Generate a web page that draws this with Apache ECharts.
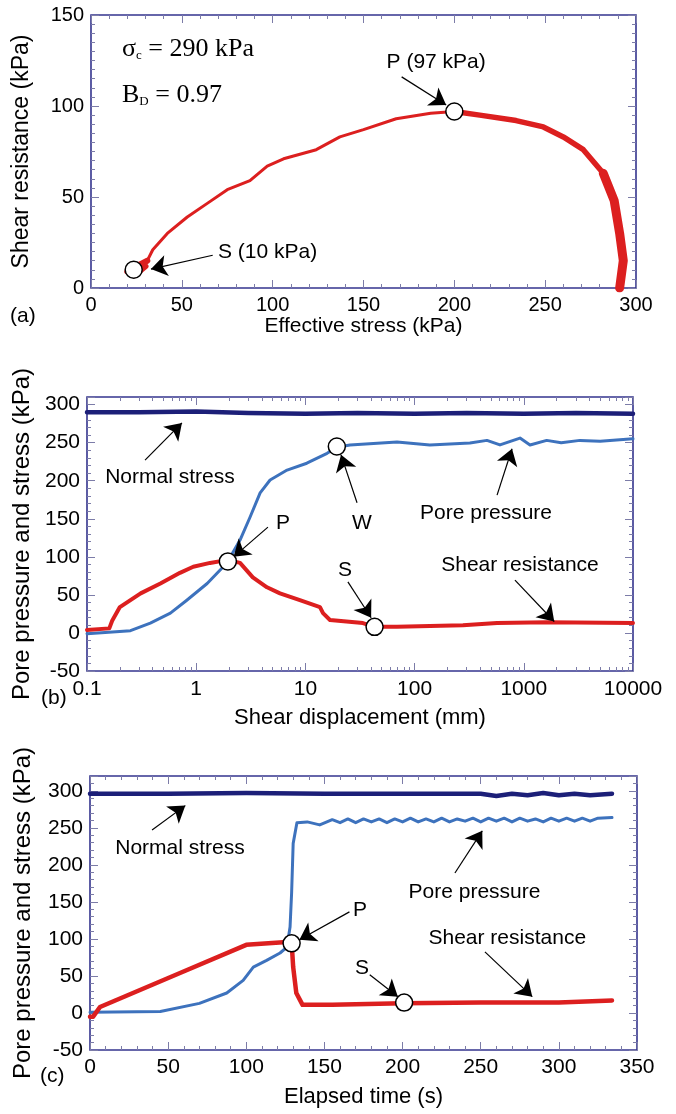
<!DOCTYPE html>
<html><head><meta charset="utf-8">
<script src="https://cdn.jsdelivr.net/npm/echarts@6/dist/echarts.min.js"></script>
<style>html,body{margin:0;padding:0;background:#fff}#c{width:676px;height:1114px}</style>
</head><body><div id="c"></div>
<script>
// ---------- Panel (a): stress path ----------
const aEffStress = [291, 293, 291, 288, 282, 271, 260, 249, 234, 214, 200, 187, 168, 150, 137, 124, 106, 97, 87.5, 75, 64, 53, 42, 34, 31, 27, 22, 20, 24, 30, 23];
const aShear     = [0, 15, 30, 48, 63, 76, 83, 88.5, 92, 95, 97, 96, 93, 87, 83, 76, 71, 67, 59, 54, 46.5, 39, 30, 21, 15, 13, 12, 9, 7, 12, 10];
const aPoints = [[200, 97, 'P'], [23.5, 10, 'S']];

// ---------- Panel (b): vs shear displacement (log) ----------
const bDispN = [0.1, 0.3, 1, 3, 10, 30, 100, 300, 1000, 3000, 10000];
const bNormal = [290, 290, 291, 289, 288, 289, 288, 289, 288, 289, 288];
const bDispP = [0.1, 0.25, 0.38, 0.58, 0.82, 1.26, 1.91, 2.52, 3.11, 3.85, 4.75, 6.8, 10.3, 15.8, 19.4, 25.6, 69, 138, 321, 460, 605, 923, 1140, 1620, 2200, 3270, 5000, 10000];
const bPore  = [-1, 3, 13, 26, 43, 65, 92, 122, 152, 184, 201, 214, 223, 236, 244, 247, 251, 247, 249.5, 253, 247, 256, 247, 253, 250, 253, 252, 255];
const bDispS = [0.1, 0.16, 0.17, 0.2, 0.31, 0.47, 0.71, 0.94, 1.34, 1.95, 2.52, 3.3, 4.45, 5.85, 8.9, 13.6, 14.5, 16.8, 33.6, 43, 69, 277, 569, 1620, 10000];
const bShear = [4, 6, 16, 34, 52, 65, 79, 87, 92, 96, 92, 73, 60, 52, 43, 34, 26, 17, 13, 8, 8, 10, 13, 14, 13];
const bPoints = [[1.95, 94, 'P'], [19.4, 245, 'W'], [43, 8, 'S']];

// ---------- Panel (c): vs elapsed time ----------
const cTimeN = [0, 50, 100, 150, 200, 250, 260, 270, 280, 290, 300, 310, 320, 334];
const cNormal = [296, 296, 297, 296, 296, 296, 293, 296, 294, 297, 294, 296, 294, 296];
const cTimeP = [0, 45, 70, 87.5, 98, 104.5, 113, 121.6, 126, 128, 129, 130, 132.4, 139, 147, 155, 160, 165, 170, 175, 180, 185, 190, 195, 200, 205, 210, 215, 220, 225, 230, 235, 240, 245, 250, 255, 260, 265, 270, 275, 280, 285, 290, 295, 300, 305, 310, 315, 320, 325, 334];
const cPore  = [1, 2, 13, 27, 44, 62, 71, 81, 89, 116, 162, 229, 257, 258, 254, 261, 257, 262, 257, 262, 258, 262, 257, 262, 258, 263, 258, 262, 258, 263, 258, 262, 259, 263, 258, 263, 259, 263, 258, 263, 259, 262, 258, 263, 259, 263, 259, 263, 259, 263, 264];
const cTimeS = [0, 2, 6.4, 57.6, 100, 126, 129, 130, 132, 136, 155, 200, 250, 300, 334];
const cShear = [-5, -5, 8, 54, 92, 96, 96, 62, 27, 11, 11, 13, 14, 14, 17];
const cPoints = [[129, 94, 'P'], [201, 14, 'S']];

// ---------- Tick values ----------
const logMajor = [0.1, 1, 10, 100, 1000, 10000];
const logMinor = [];
for (let d = 0.1; d < 10000; d *= 10) for (let k = 2; k <= 9; k++) logMinor.push(+(d * k).toPrecision(3));

// ---------- Annotations (text, arrows) in data coordinates ----------
const aTexts = [[69.9, 19.8, 'S (10 kPa)', 'left'], [190, 124.2, 'P (97 kPa)', 'center']];
const aArrows = [[[67, 18], [33, 10.4]], [[171, 116], [195.5, 100.5]]];
const bTexts = [[0.575, 205, 'Normal stress'], [6.24, 144, 'P'], [33, 144, 'W'], [451, 157.6, 'Pore pressure'], [23, 82.7, 'S'], [923, 89.2, 'Shear resistance']];
const bArrows = [[[0.34, 227], [0.74, 276]], [[4.54, 139], [2.2, 100]], [[29.7, 171], [21.2, 234]], [[569, 181], [780, 242]], [[24.5, 67], [40, 20]], [[830, 69.5], [1900, 15]]];
const cTexts = [[57.6, 222.8, 'Normal stress'], [172.7, 139, 'P'], [246, 163.5, 'Pore pressure'], [267, 101.4, 'Shear resistance'], [174, 61, 'S']];
const cArrows = [[[39.7, 247], [61, 280]], [[166, 136.5], [134, 99]], [[233.5, 189], [251, 246]], [[252.7, 82.5], [283, 22]], [[179, 51.5], [197, 22]]];

const RED = '#dc1f1f', BLUE = '#3d72bd', NAVY = '#1c1f78', FRAME = '#34348e', TICK = '#7c7ca8';
const FONT = 'Liberation Sans, Arial, sans-serif';
const INK = '#000';

const zip = (xs, ys) => xs.map((x, i) => [x, ys[i]]);

const grids = [
  { left: 91, top: 15, width: 545, height: 273 },
  { left: 87, top: 397, width: 546, height: 274 },
  { left: 90, top: 776, width: 547, height: 274 }
].map(g => Object.assign(g, { show: true, borderColor: FRAME, borderWidth: 1.6, backgroundColor: 'transparent', containLabel: false }));

const xAxes = [], yAxes = [];
function addAxis(list, o) { list.push(o); return list.length - 1; }

function linearAxes(gi, dim, min, max, interval, minorSplit, fontSize, name, nameGap) {
  const list = dim === 'x' ? xAxes : yAxes;
  const posMain = dim === 'x' ? 'bottom' : 'left';
  const posOpp = dim === 'x' ? 'top' : 'right';
  const base = {
    type: 'value', gridIndex: gi, min, max, interval,
    axisLine: { show: false, onZero: false },
    splitLine: { show: false },
    axisTick: { show: true, inside: true, length: 8, lineStyle: { color: TICK, width: 1 } },
    minorTick: { show: true, splitNumber: minorSplit, length: 4, lineStyle: { color: TICK, width: 1 } }
  };
  const main = addAxis(list, Object.assign({}, base, {
    position: posMain, name, nameLocation: 'middle', nameGap,
    nameTextStyle: { fontFamily: FONT, fontSize: fontSize + (dim === 'y' ? 3 : 1), color: INK },
    axisLabel: { show: true, fontFamily: FONT, fontSize, color: INK, margin: 7 }
  }));
  addAxis(list, Object.assign({}, base, { position: posOpp, axisLabel: { show: false } }));
  return main;
}

function logAxes(gi, fontSize, name, nameGap) {
  const base = {
    type: 'log', logBase: 10, gridIndex: gi, min: 0.1, max: 10000,
    axisLine: { show: false, onZero: false }, splitLine: { show: false }, minorTick: { show: false }
  };
  const main = addAxis(xAxes, Object.assign({}, base, {
    position: 'bottom', name, nameLocation: 'middle', nameGap,
    nameTextStyle: { fontFamily: FONT, fontSize: fontSize + 1, color: INK },
    axisTick: { show: true, inside: true, length: 8, customValues: logMajor, lineStyle: { color: TICK } },
    axisLabel: { show: true, fontFamily: FONT, fontSize, color: INK, margin: 8, customValues: logMajor,
      formatter: v => String(+(+v).toPrecision(6)) }
  }));
  addAxis(xAxes, Object.assign({}, base, { position: 'bottom', axisLabel: { show: false },
    axisTick: { show: true, inside: true, length: 4, customValues: logMinor, lineStyle: { color: TICK } } }));
  addAxis(xAxes, Object.assign({}, base, { position: 'top', axisLabel: { show: false },
    axisTick: { show: true, inside: true, length: 8, customValues: logMajor, lineStyle: { color: TICK } } }));
  addAxis(xAxes, Object.assign({}, base, { position: 'top', axisLabel: { show: false },
    axisTick: { show: true, inside: true, length: 4, customValues: logMinor, lineStyle: { color: TICK } } }));
  return main;
}

const ax = linearAxes(0, 'x', 0, 300, 50, 5, 20, 'Effective stress (kPa)', 28);
const ay = linearAxes(0, 'y', 0, 150, 50, 10, 20, 'Shear resistance (kPa)', 58);
const bx = logAxes(1, 21, 'Shear displacement (mm)', 36);
const by = linearAxes(1, 'y', -50, 310, 50, 5, 21, 'Pore pressure and stress (kPa)', 52);
const cx = linearAxes(2, 'x', 0, 350, 50, 5, 21, 'Elapsed time (s)', 36);
const cy = linearAxes(2, 'y', -50, 320, 50, 5, 21, 'Pore pressure and stress (kPa)', 55);

function line(xi, yi, data, color, width, z) {
  return { type: 'line', xAxisIndex: xi, yAxisIndex: yi, data, showSymbol: false, symbol: 'none',
    lineStyle: { color, width, join: 'round', cap: 'round' }, z: z || 2, silent: true, animation: false };
}
function circles(xi, yi, pts) {
  return { type: 'scatter', xAxisIndex: xi, yAxisIndex: yi, data: pts.map(p => [p[0], p[1]]),
    symbol: 'circle', symbolSize: 17, itemStyle: { color: '#fff', borderColor: '#000', borderWidth: 1.5, opacity: 1 },
    z: 10, silent: true, animation: false };
}
function labels(xi, yi, texts, fontSize) {
  return { type: 'scatter', xAxisIndex: xi, yAxisIndex: yi, symbolSize: 1,
    itemStyle: { color: 'rgba(0,0,0,0)', opacity: 1 },
    data: texts.map(t => ({ value: [t[0], t[1]],
      label: { show: true, position: 'inside', formatter: t[2], align: t[3] || 'center', verticalAlign: 'middle',
        fontFamily: FONT, fontSize, color: INK, opacity: 1, textBorderWidth: 0 } })),
    z: 11, silent: true, animation: false };
}
function arrows(xi, yi, list) {
  return { type: 'line', xAxisIndex: xi, yAxisIndex: yi, data: [], silent: true, animation: false,
    markLine: { silent: true, animation: false, symbol: ['none', 'arrow'], symbolSize: 16,
      label: { show: false }, lineStyle: { color: '#000', width: 1.2, type: 'solid', opacity: 1 },
      itemStyle: { color: '#000' },
      emphasis: { disabled: true },
      data: list.map(a => [{ coord: a[0] }, { coord: a[1] }]) }, z: 12 };
}

const aData = zip(aEffStress, aShear);
const series = [
  line(ax, ay, aData.slice(0, 5), RED, 9),
  line(ax, ay, aData.slice(4, 11), RED, 5.5),
  line(ax, ay, aData.slice(10, 25), RED, 3),
  line(ax, ay, aData.slice(24), RED, 6),
  circles(ax, ay, aPoints),
  labels(ax, ay, aTexts, 21),
  arrows(ax, ay, aArrows),

  line(bx, by, zip(bDispN, bNormal), NAVY, 4.5),
  line(bx, by, zip(bDispP, bPore), BLUE, 3),
  line(bx, by, zip(bDispS, bShear), RED, 4),
  circles(bx, by, bPoints),
  labels(bx, by, bTexts, 21),
  arrows(bx, by, bArrows),

  line(cx, cy, zip(cTimeN, cNormal), NAVY, 4.5),
  line(cx, cy, zip(cTimeP, cPore), BLUE, 3),
  line(cx, cy, zip(cTimeS, cShear), RED, 4.5),
  circles(cx, cy, cPoints),
  labels(cx, cy, cTexts, 21),
  arrows(cx, cy, cArrows)
];

const chart = echarts.init(document.getElementById('c'), null, { renderer: 'canvas' });
chart.setOption({
  animation: false,
  backgroundColor: '#fff',
  grid: grids, xAxis: xAxes, yAxis: yAxes, series,
  graphic: [
    { type: 'text', left: 122, top: 36, style: { rich: {
        s: { fontFamily: 'Liberation Serif, Times New Roman, serif', fontSize: 26, fill: INK },
        sub: { fontFamily: 'Liberation Serif, Times New Roman, serif', fontSize: 13, fill: INK, padding: [14, 0, 0, 0] } },
        text: '{s|σ}{sub|c}{s| = 290 kPa}' } },
    { type: 'text', left: 122, top: 82, style: { rich: {
        s: { fontFamily: 'Liberation Serif, Times New Roman, serif', fontSize: 26, fill: INK },
        sub: { fontFamily: 'Liberation Serif, Times New Roman, serif', fontSize: 13, fill: INK, padding: [14, 0, 0, 0] } },
        text: '{s|B}{sub|D}{s| = 0.97}' } },
    { type: 'text', left: 10, top: 306, style: { text: '(a)', fontFamily: FONT, fontSize: 21, fill: INK } },
    { type: 'text', left: 41, top: 688, style: { text: '(b)', fontFamily: FONT, fontSize: 21, fill: INK } },
    { type: 'text', left: 40, top: 1066, style: { text: '(c)', fontFamily: FONT, fontSize: 21, fill: INK } }
  ]
});
</script></body></html>
